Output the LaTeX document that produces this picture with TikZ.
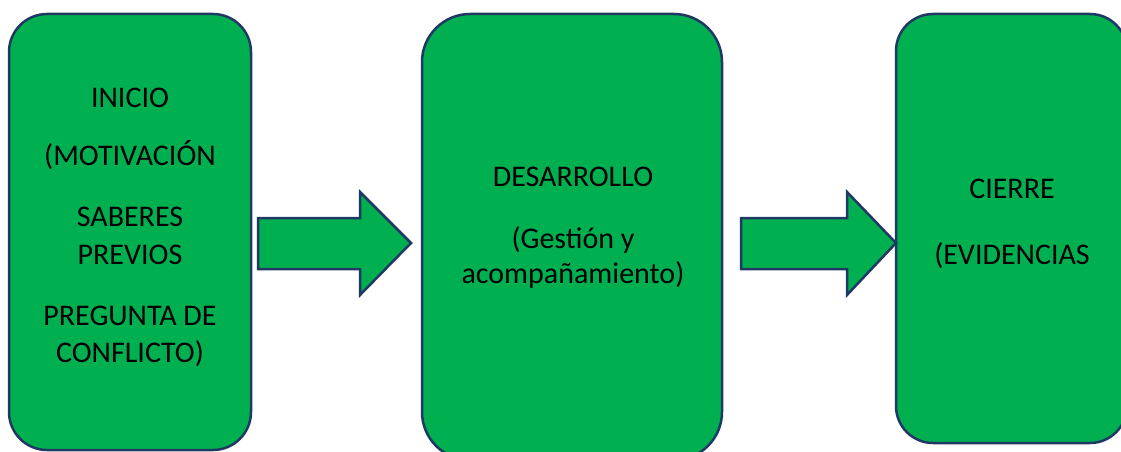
\documentclass[tikz,border=0pt]{standalone}
\usepackage{fontspec}
\setmainfont{Carlito}
\definecolor{boxgreen}{HTML}{00B050}
\definecolor{edgeblue}{HTML}{1F3864}
\begin{document}
\begin{tikzpicture}[x=1pt,y=-1pt,
  stagebox/.style={draw=edgeblue,fill=boxgreen,line width=2.5pt,rectangle,inner sep=0pt},
  blockarrow/.style={draw=edgeblue,fill=boxgreen,line width=2.5pt,line join=miter},
  lbl/.style={anchor=base,font=\fontsize{30}{36}\selectfont,inner sep=0pt,text=black}]
\useasboundingbox (0,0) rectangle (1121,452);
\clip (0,0) rectangle (1121,452);
% boxes
\node[stagebox,rounded corners=38pt,minimum width=242pt,minimum height=436pt] (b1) at (130,232) {};
\node[stagebox,rounded corners=48pt,minimum width=300pt,minimum height=446pt] (b2) at (572,237) {};
\node[stagebox,rounded corners=37pt,minimum width=231pt,minimum height=429pt] (b3) at (1011.5,228.5) {};
% block arrows
\coordinate (a1s) at (258,243);
\coordinate (a1t) at (411,243);
\draw[blockarrow] (a1s) ++(0,-25) -- (360,218) -- (360,192) -- (a1t) -- (360,295) -- (360,269) -- (258,269) -- cycle;
\coordinate (a2s) at (741,243);
\coordinate (a2t) at (896,243);
\draw[blockarrow] (a2s) ++(0,-25) -- (847,218) -- (847,192) -- (a2t) -- (847,295) -- (847,269) -- (741,269) -- cycle;
% texts box 1
\node[lbl] (t1) at (130,107) {INICIO};
\node[lbl] (t2) at (130,165) {(MOTIVACIÓN};
\node[lbl] (t3) at (130,226.5) {SABERES};
\node[lbl] (t4) at (130,264) {PREVIOS};
\node[lbl] (t5) at (130,325) {PREGUNTA DE};
\node[lbl] (t6) at (130,362) {CONFLICTO)};
% texts box 2
\node[lbl] (u1) at (573,186) {DESARROLLO};
\node[lbl] (u2) at (573,248) {(Gestión y};
\node[lbl] (u3) at (573,283) {acompañamiento)};
% texts box 3
\node[lbl] (v1) at (1012,198) {CIERRE};
\node[lbl] (v2) at (1012,264) {(EVIDENCIAS};
\end{tikzpicture}
\end{document}
